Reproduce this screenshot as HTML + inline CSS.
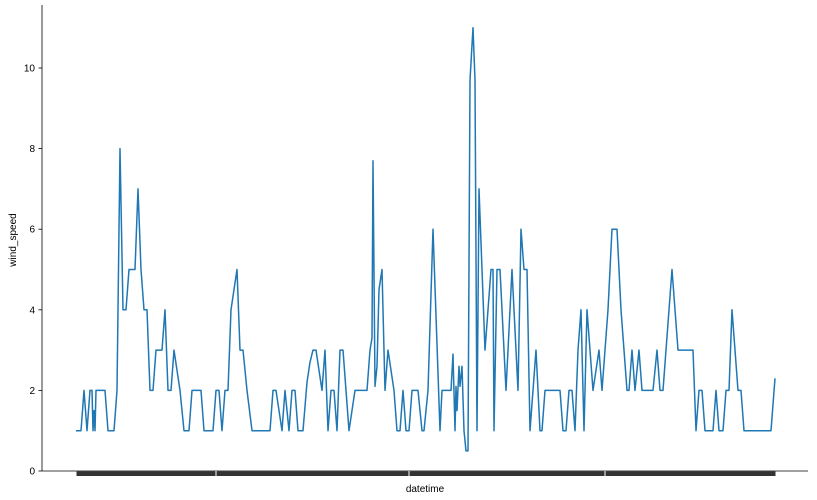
<!DOCTYPE html>
<html><head><meta charset="utf-8"><style>
body{margin:0;background:#fff;}
svg{display:block;font-family:"Liberation Sans",sans-serif;}
</style></head><body>
<svg id="chart" width="817" height="500">
<g id="axes"></g>
<path id="line" fill="none" stroke="#1f77b4" stroke-width="1.5" stroke-linejoin="round"/>
<text x="425" y="492" text-anchor="middle" font-size="10">datetime</text>
<text transform="translate(16,240) rotate(-90)" text-anchor="middle" font-size="10">wind_speed</text>
</svg>
<script>
const timeIdx=[
0,5,8,11,14,16,17,18,19,20,
29,32,38,41,44,47,50,53,59,62,
65,68,71,74,77,80,86,89,92,95,
98,101,104,108,113,116,125,128,137,140,
143,146,149,152,155,158,161,
164,167,171,176,194,197,200,206,209,213,
216,219,222,227,231,234,237,240,246,249,
252,255,258,261,264,267,273,279,291,294,
296,297,299,301,303,306,309,312,315,318,
321,324,327,330,333,336,342,
346,348,352,357,364,366,375,377,379,380,
381,383,384,386,388,390,392,394,397,399,
401,403,409,415,417,418,421,424,430,436,
442,445,448,451,454,460,464,466,469,484,
487,490,493,496,499,502,505,508,511,
517,523,526,532,536,541,545,551,553,556,
559,563,566,577,581,584,587,596,602,617,
620,623,626,629,637,640,643,647,650,653,
656,662,665,668,695,699];
const windSpeed=[
1,1,2,1,2,2,1,1.5,1,2,
2,1,1,2,8,4,4,5,5,7,
5,4,4,2,2,3,3,4,2,2,
3,2.5,2,1,1,2,2,1,1,2,
2,1,2,2,4,4.5,5,
3,3,2,1,1,2,2,1,2,1,
2,2,1,1,2.2,2.7,3,3,2,3,
1,2,2,1,3,3,1,2,2,3,
3.3,7.7,2.1,2.6,4.5,5,2,3,2.5,2,
1,1,2,1,1,2,2,
1,1,2,6,1,2,2,2.9,1,2.1,
1.5,2.6,2.1,2.6,1,0.5,0.5,9.7,11,9.7,
1,7,3,5,5,1,5,5,2,5,
2,6,5,5,1,3,1,1,2,2,
1,1,2,2,1,3,4,1,4,
2,3,2,4,6,6,4,2,2,3,
2,3,2,2,3,2,2,5,3,3,
1,2,2,1,1,2,1,1,2,2,
4,2,2,1,1,2.3];
const yTicks=[0,2,4,6,8,10];
const xMajorTicks=[1,140,333,529,699];
const X0=76,X1=775,T1=699,Y0=471,PPU=40.3;
const xs=t=>X0+t*(X1-X0)/T1;
const ys=v=>Y0-v*PPU;
const NS="http://www.w3.org/2000/svg";
const axes=document.getElementById('axes');
function mk(tag,attrs){const e=document.createElementNS(NS,tag);for(const k in attrs)e.setAttribute(k,attrs[k]);return e;}
let spineL=mk('line',{x1:42,y1:5,x2:42,y2:471,stroke:'#000','stroke-width':0.8});


axes.appendChild(spineL);
let spineB=mk('line',{x1:42,y1:471,x2:808,y2:471,stroke:'#000','stroke-width':0.8});


axes.appendChild(spineB);
let band=mk('rect',{x:77,y:471.5,width:698,height:4.5,fill:'#333'});


axes.appendChild(band);
xMajorTicks.forEach((t,i)=>{
  let l=mk('line',{x1:xs(t),y1:471,x2:xs(t),y2:476,stroke:(i===0||i===xMajorTicks.length-1)?'#333':'#fff','stroke-width':1});
  
  
  axes.appendChild(l);
});
yTicks.forEach(v=>{
  let l=mk('line',{x1:38.5,y1:ys(v),x2:42,y2:ys(v),stroke:'#000','stroke-width':0.8});
  
  
  axes.appendChild(l);
  let tx=mk('text',{x:35,y:ys(v)+3.5,'text-anchor':'end','font-size':10,fill:'#000'});
  tx.textContent=v;
  
  
  axes.appendChild(tx);
});
const n=Math.min(timeIdx.length,windSpeed.length);
let d='';
for(let i=0;i<n;i++){d+=(i?'L':'M')+xs(timeIdx[i]).toFixed(1)+','+ys(windSpeed[i]).toFixed(1);}
document.getElementById('line').setAttribute('d',d);
</script>
</body></html>
